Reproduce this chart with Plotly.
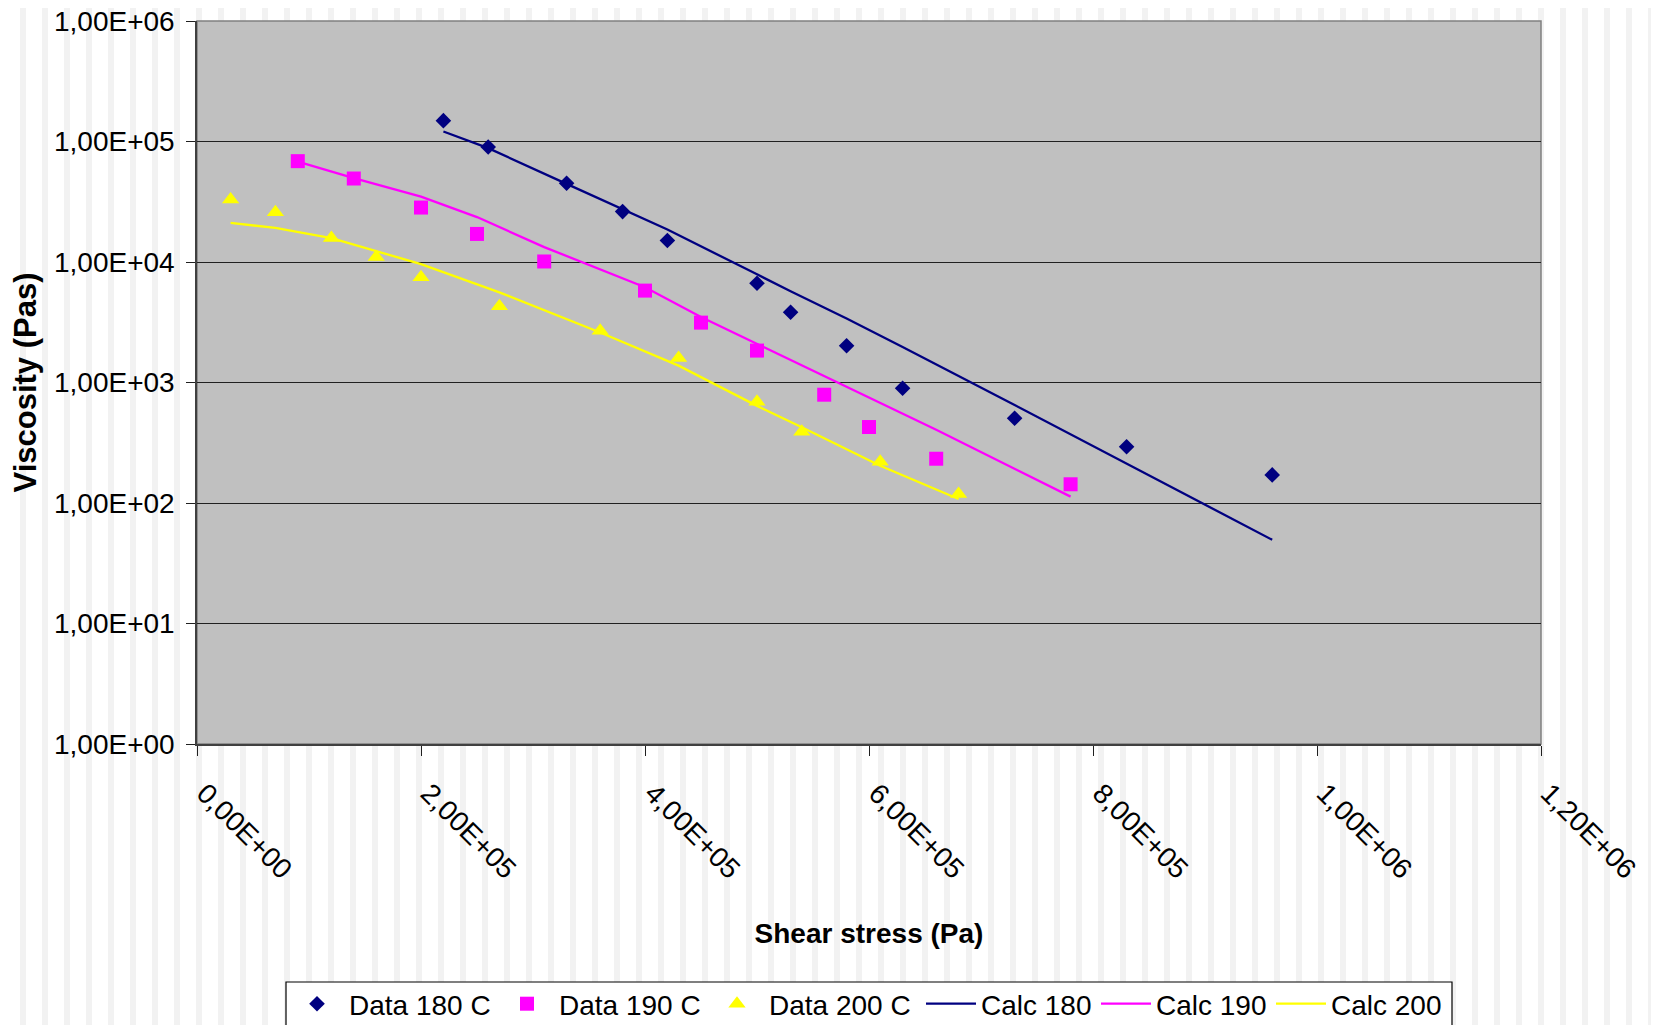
import plotly.graph_objects as go

# ---------------- data ----------------
x_data_180 = [2.2e5, 2.6e5, 3.3e5, 3.8e5, 4.2e5, 5.0e5, 5.3e5, 5.8e5, 6.3e5, 7.3e5, 8.3e5, 9.6e5]
y_data_180 = [1.49e5, 9.0e4, 4.5e4, 2.62e4, 1.51e4, 6.67e3, 3.83e3, 2.02e3, 895, 505, 293, 171]
y_calc_180 = [1.21e5, 8.81e4, 4.45e4, 2.75e4, 1.86e4, 7.9e3, 5.72e3, 3.4e3, 1.97e3, 650, 213, 49.5]

x_data_190 = [0.9e5, 1.4e5, 2.0e5, 2.5e5, 3.1e5, 4.0e5, 4.5e5, 5.0e5, 5.6e5, 6.0e5, 6.6e5, 7.8e5]
y_data_190 = [6.87e4, 4.93e4, 2.83e4, 1.71e4, 1.01e4, 5.79e3, 3.14e3, 1.84e3, 792, 427, 233, 143]
y_calc_190 = [6.82e4, 4.97e4, 3.49e4, 2.36e4, 1.33e4, 6.17e3, 3.5e3, 2.1e3, 1.13e3, 750, 405, 113]

x_data_200 = [0.3e5, 0.7e5, 1.2e5, 1.6e5, 2.0e5, 2.7e5, 3.6e5, 4.3e5, 5.0e5, 5.4e5, 6.1e5, 6.8e5]
y_data_200 = [3.3e4, 2.59e4, 1.58e4, 1.1e4, 7.47e3, 4.29e3, 2.69e3, 1.6e3, 693, 390, 220, 119]
y_calc_200 = [2.11e4, 1.92e4, 1.58e4, 1.24e4, 9.6e3, 5.6e3, 2.6e3, 1.38e3, 640, 425, 204, 108]

x_tickvals = [0, 2e5, 4e5, 6e5, 8e5, 1.0e6, 1.2e6]
x_ticktext = ["0,00E+00", "2,00E+05", "4,00E+05", "6,00E+05", "8,00E+05", "1,00E+06", "1,20E+06"]
y_tickvals = [1, 10, 100, 1e3, 1e4, 1e5, 1e6]
y_ticktext = ["1,00E+00", "1,00E+01", "1,00E+02", "1,00E+03", "1,00E+04", "1,00E+05", "1,00E+06"]

NAVY = "#000080"
MAGENTA = "#FF00FF"
YELLOW = "#FFFF00"
FONT = "Liberation Sans, Arial, sans-serif"

fig = go.Figure()
fig.add_trace(go.Scatter(x=x_data_180, y=y_data_180, mode="markers", name="Data 180 C", legend="legend",
                         marker=dict(symbol="diamond", size=12, color=NAVY)))
fig.add_trace(go.Scatter(x=x_data_190, y=y_data_190, mode="markers", name="Data 190 C", legend="legend",
                         marker=dict(symbol="square", size=14, color=MAGENTA)))
fig.add_trace(go.Scatter(x=x_data_200, y=y_data_200, mode="markers", name="Data 200 C", legend="legend",
                         marker=dict(symbol="triangle-up", size=15, color=YELLOW)))
fig.add_trace(go.Scatter(x=x_data_180, y=y_calc_180, mode="lines", name="Calc 180", legend="legend2",
                         line=dict(color=NAVY, width=2.3)))
fig.add_trace(go.Scatter(x=x_data_190, y=y_calc_190, mode="lines", name="Calc 190", legend="legend2",
                         line=dict(color=MAGENTA, width=2.3)))
fig.add_trace(go.Scatter(x=x_data_200, y=y_calc_200, mode="lines", name="Calc 200", legend="legend2",
                         line=dict(color=YELLOW, width=2.3)))

# ---------------- geometry (figure sits 8px inside the page) ----------------
W, H = 1651, 1017
ML, MR, MT, MB = 189, 118, 13, 281
PW = W - ML - MR
PH = H - MT - MB


def px_x(v):
    return (v - ML) / PW


def px_y(v):
    return (MT + PH - v) / PH


shapes = []
sx = 12
while sx < W:
    shapes.append(dict(type="rect", xref="paper", yref="paper",
                       x0=px_x(sx), x1=px_x(sx + 6), y0=px_y(H + 5), y1=px_y(-5),
                       fillcolor="#F2F2F2", line=dict(width=0), layer="below"))
    sx += 22
# grey plotting area with thin grey frame
shapes.append(dict(type="rect", xref="paper", yref="paper", x0=0, x1=1, y0=0, y1=1,
                   fillcolor="#C0C0C0", line=dict(color="#808080", width=1.5), layer="below"))
# common legend box
shapes.append(dict(type="rect", xref="paper", yref="paper",
                   x0=px_x(278), x1=px_x(1444), y0=px_y(H + 20), y1=px_y(974),
                   fillcolor="white", line=dict(color="black", width=1.2), layer="above"))

fig.update_layout(
    width=W, height=H,
    margin=dict(l=ML, r=MR, t=MT, b=MB, autoexpand=False),
    paper_bgcolor="white",
    plot_bgcolor="#C0C0C0",
    font=dict(family=FONT, color="black", size=28),
    shapes=shapes,
    showlegend=True,
    legend=dict(orientation="h", x=px_x(277), xanchor="left", y=px_y(971), yanchor="top",
                bgcolor="rgba(0,0,0,0)", borderwidth=0, itemwidth=54,
                font=dict(family=FONT, size=28, color="black"),
                entrywidth=141, entrywidthmode="pixels", traceorder="normal"),
    legend2=dict(orientation="h", x=px_x(913), xanchor="left", y=px_y(971), yanchor="top",
                 bgcolor="rgba(0,0,0,0)", borderwidth=0, itemwidth=50,
                 font=dict(family=FONT, size=28, color="black"),
                 entrywidth=110, entrywidthmode="pixels", traceorder="normal"),
    xaxis=dict(range=[0, 1.2e6], tickmode="array", tickvals=x_tickvals, ticktext=x_ticktext,
               tickangle=45, showgrid=False, zeroline=False,
               showline=True, linecolor="#404040", linewidth=1.5,
               ticks="outside", ticklen=10, tickcolor="#202020", tickwidth=1,
               tickfont=dict(size=28, family=FONT), ticklabelstandoff=10, ticklabelshift=8,
               ticklabeloverflow="allow",
               title=dict(text="<b>Shear stress (Pa)</b>", font=dict(size=28, family=FONT), standoff=40)),
    yaxis=dict(type="log", range=[0, 6], tickmode="array", tickvals=y_tickvals, ticktext=y_ticktext,
               showgrid=True, gridcolor="#202020", gridwidth=1, zeroline=False,
               showline=True, linecolor="#404040", linewidth=1.5,
               ticks="outside", ticklen=9, tickcolor="#202020", tickwidth=1,
               tickfont=dict(size=28, family=FONT), ticklabelstandoff=6,
               ticklabeloverflow="allow",
               title=dict(text="<b>Viscosity (Pas)</b>", font=dict(size=31, family=FONT), standoff=10)),
)

fig.write_html("out.html")
